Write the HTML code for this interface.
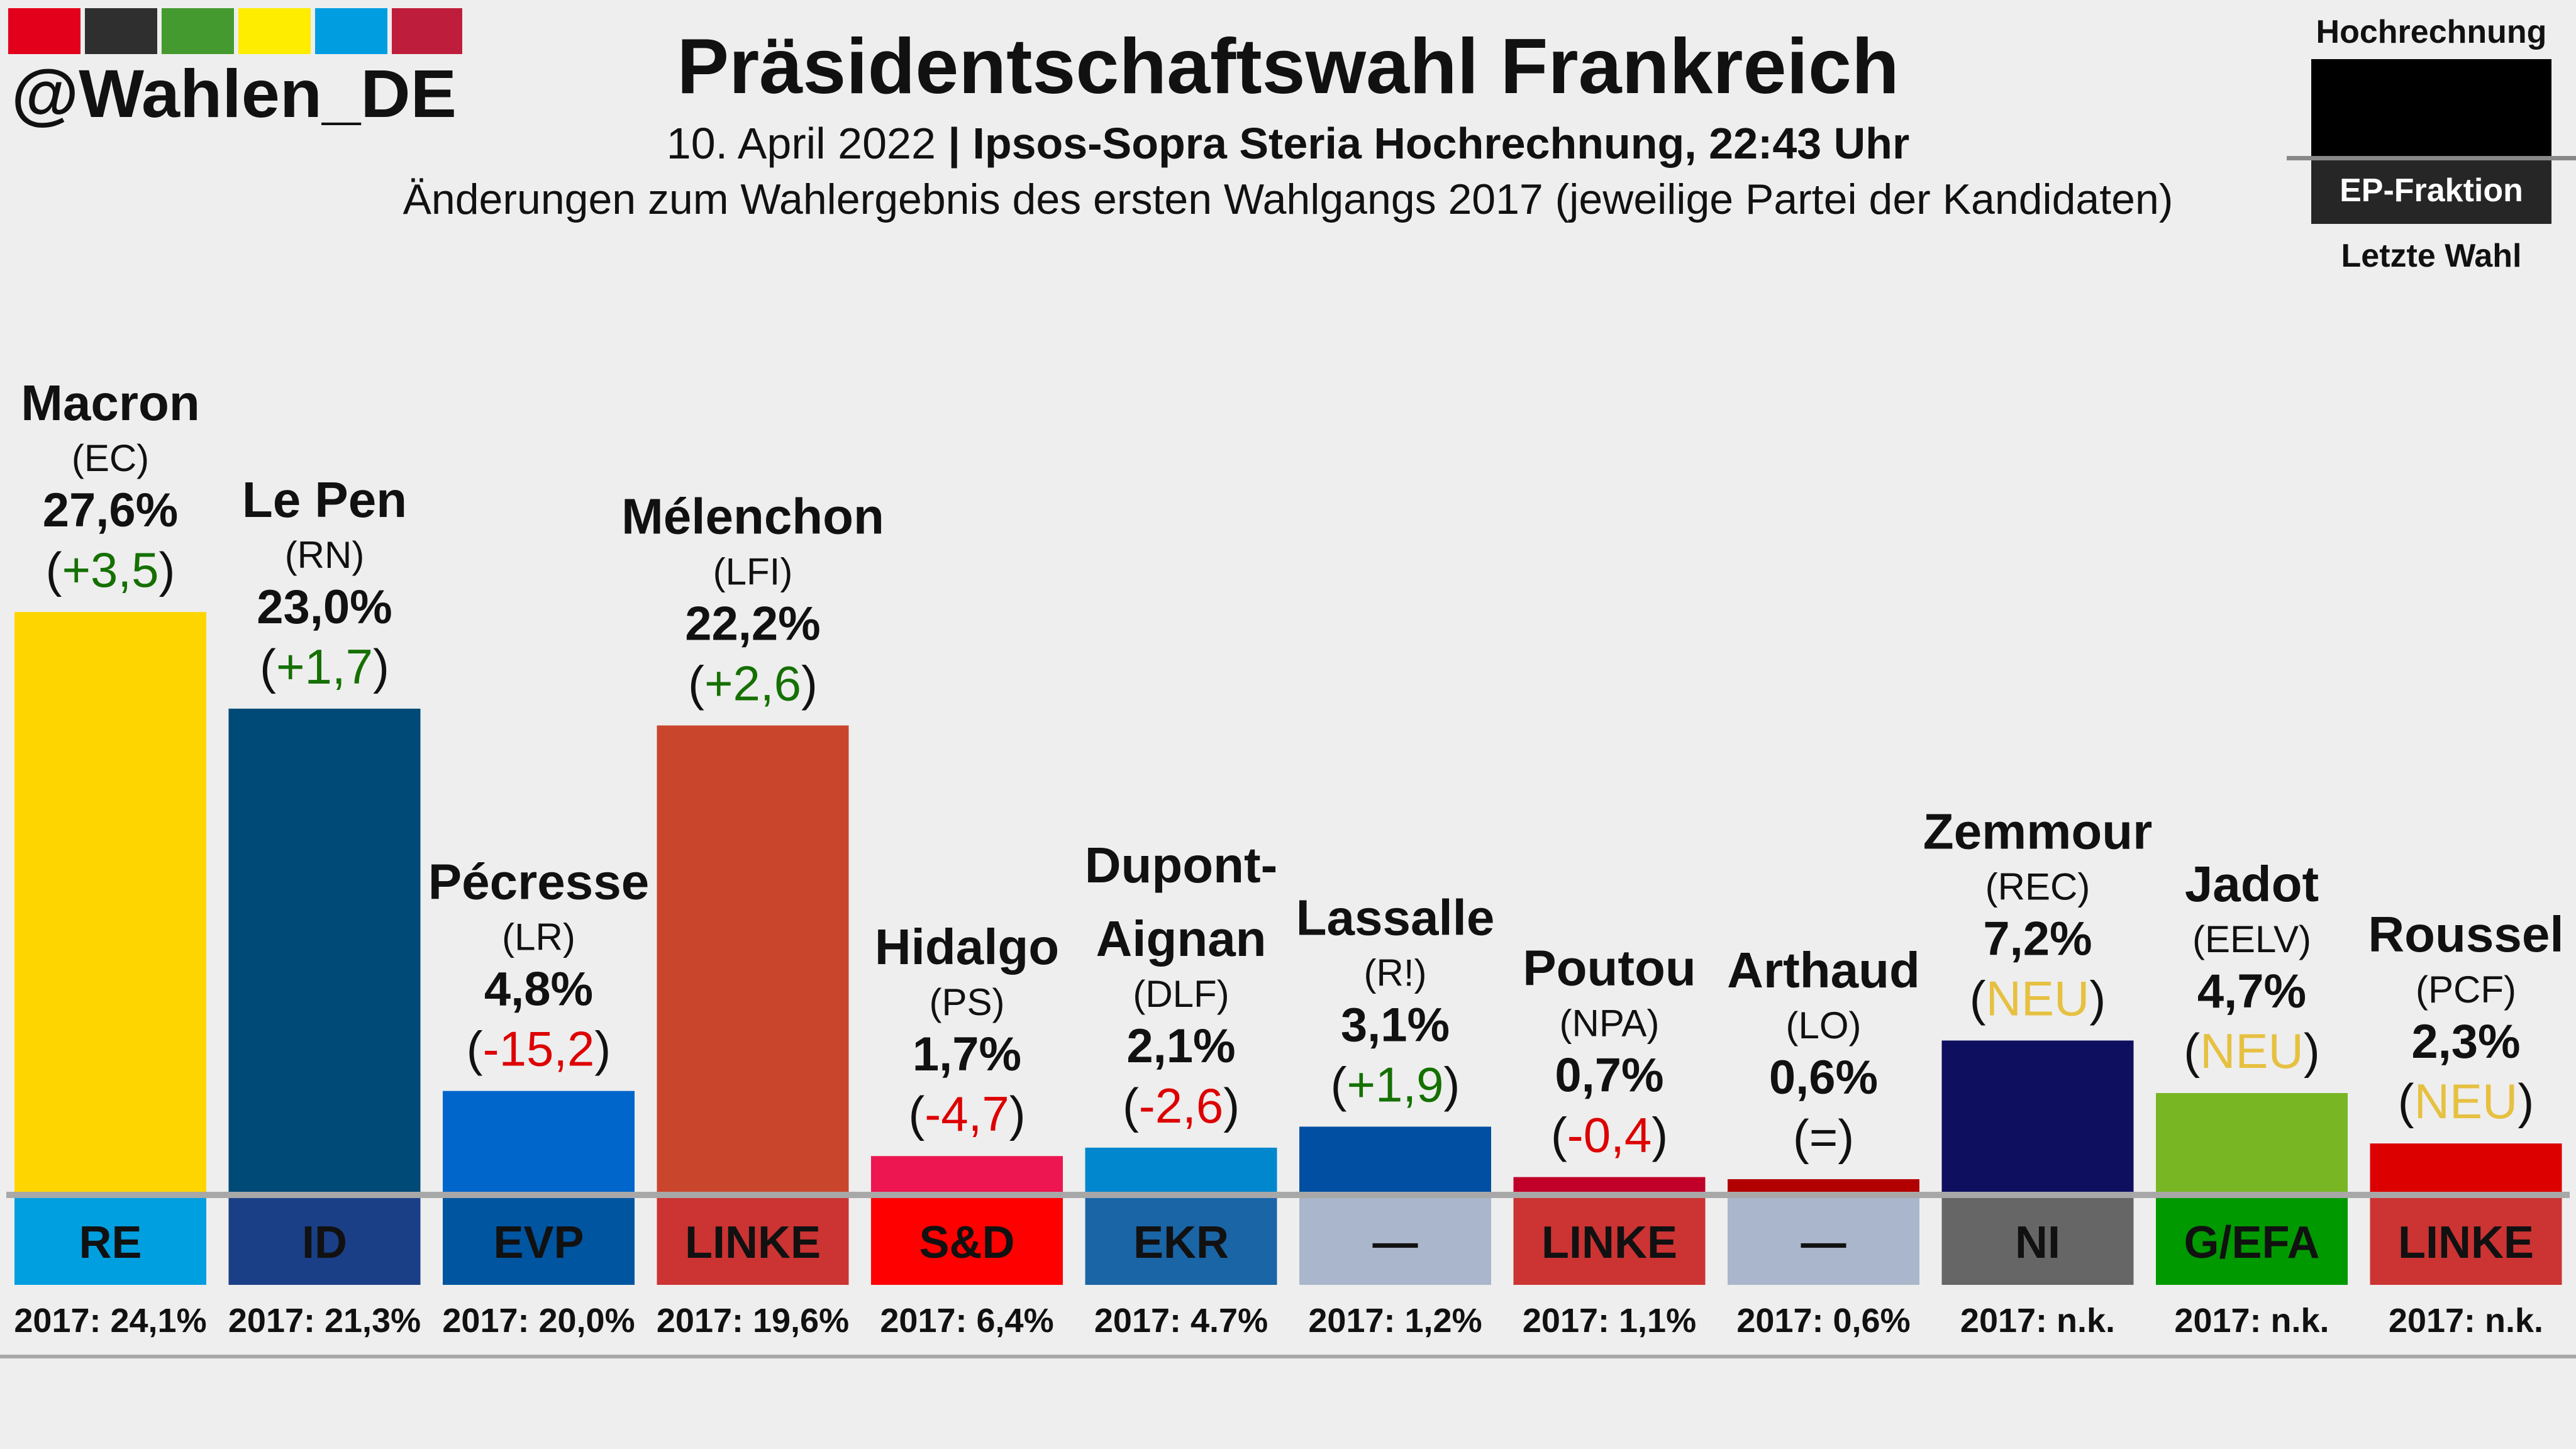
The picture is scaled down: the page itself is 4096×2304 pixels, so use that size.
<!DOCTYPE html>
<html><head><meta charset="utf-8"><style>
html,body{margin:0;padding:0;background:#eeeeee;}
svg{display:block;font-family:"Liberation Sans",sans-serif;}
</style></head><body>
<svg id="chart" width="4096" height="2304" viewBox="0 0 4096 2304" xmlns="http://www.w3.org/2000/svg">
<rect x="0" y="0" width="4096" height="2304" fill="#eeeeee"/>
<g>
<rect x="13" y="13" width="115" height="73" fill="#e2001a"/>
<rect x="135" y="13" width="115" height="73" fill="#2f2f2f"/>
<rect x="257" y="13" width="115" height="73" fill="#449a2e"/>
<rect x="379" y="13" width="115" height="73" fill="#ffed00"/>
<rect x="501" y="13" width="115" height="73" fill="#009ee0"/>
<rect x="623" y="13" width="112" height="73" fill="#be1e3c"/>
</g>
<text x="18" y="186" font-size="108" font-weight="bold" fill="#111" textLength="708" lengthAdjust="spacingAndGlyphs">@Wahlen_DE</text>
<text x="2048" y="148" font-size="124" font-weight="bold" text-anchor="middle" fill="#111">Präsidentschaftswahl Frankreich</text>
<text x="2048" y="252" font-size="70" text-anchor="middle" fill="#111">10. April 2022 <tspan font-weight="bold">| Ipsos-Sopra Steria Hochrechnung, 22:43 Uhr</tspan></text>
<text x="2048" y="340" font-size="68" text-anchor="middle" fill="#111">Änderungen zum Wahlergebnis des ersten Wahlgangs 2017 (jeweilige Partei der Kandidaten)</text>
<g>
<text x="3866" y="68" font-size="52" font-weight="bold" text-anchor="middle" fill="#111">Hochrechnung</text>
<rect x="3675" y="94" width="382" height="154" fill="#000"/>
<rect x="3636" y="248" width="460" height="7" fill="#888"/>
<rect x="3675" y="255" width="382" height="101" fill="#262626"/>
<text x="3866" y="320" font-size="52" font-weight="bold" text-anchor="middle" fill="#fff">EP-Fraktion</text>
<text x="3866" y="424" font-size="52" font-weight="bold" text-anchor="middle" fill="#111">Letzte Wahl</text>
</g>
<g id="bars"></g>
<rect x="10" y="1895" width="4076" height="10" fill="#a8a8a8"/>
<rect x="0" y="2154" width="4096" height="6" fill="#a8a8a8"/>
</svg>
<script>
const candidates = ["Macron","Le Pen","Pécresse","Mélenchon","Hidalgo","Dupont-|Aignan","Lassalle","Poutou","Arthaud","Zemmour","Jadot","Roussel"];
const parties = ["EC","RN","LR","LFI","PS","DLF","R!","NPA","LO","REC","EELV","PCF"];
const values = [27.6,23.0,4.8,22.2,1.7,2.1,3.1,0.7,0.6,7.2,4.7,2.3];
const valueLabels = ["27,6%","23,0%","4,8%","22,2%","1,7%","2,1%","3,1%","0,7%","0,6%","7,2%","4,7%","2,3%"];
const changeLabels = ["+3,5","+1,7","-15,2","+2,6","-4,7","-2,6","+1,9","-0,4","=","NEU","NEU","NEU"];
const groups = ["RE","ID","EVP","LINKE","S&D","EKR","—","LINKE","—","NI","G/EFA","LINKE"];
const prev2017 = ["2017: 24,1%","2017: 21,3%","2017: 20,0%","2017: 19,6%","2017: 6,4%","2017: 4.7%","2017: 1,2%","2017: 1,1%","2017: 0,6%","2017: n.k.","2017: n.k.","2017: n.k."];
const barColors = ["#ffd500","#004a77","#0066cc","#c9462c","#ed1651","#0087cd","#004fa3","#c1002a","#b20000","#0f0f60","#78b624","#dd0000"];
const groupColors = ["#009fe0","#1b3f87","#0055a0","#cc3333","#ff0000","#1a65a6","#a9b6cb","#cc3333","#a9b6cb","#666666","#009900","#cc3333"];

const NS = "http://www.w3.org/2000/svg";
const baseY = 1895, pxPer = 33.4, x0 = 23, pitch = 340.5, bw = 305;
const xScale = i => x0 + i*pitch;
const yScale = v => baseY - v*pxPer;
const g = document.getElementById('bars');
function mk(tag, attrs, text){
  const e = document.createElementNS(NS, tag);
  for (const k in attrs) e.setAttribute(k, attrs[k]);
  if (text !== undefined) e.textContent = text;
  g.appendChild(e); return e;
}
function changeColor(c){
  if (c === "NEU") return "#e6c040";
  if (c === "=") return "#111";
  return c[0] === "-" ? "#dd0000" : "#157000";
}
values.forEach((v,i)=>{
  const x = xScale(i), top = yScale(v), cx = x + bw/2;
  const bar = mk('rect',{x:x,y:top,width:bw,height:baseY-top,fill:barColors[i]});
  
  
  const ch = mk('text',{x:cx,y:top-40,'font-size':78,'text-anchor':'middle',fill:'#111'});
  
  
  const t1 = document.createElementNS(NS,'tspan'); t1.textContent='('; ch.appendChild(t1);
  const t2 = document.createElementNS(NS,'tspan'); t2.textContent=changeLabels[i]; t2.setAttribute('fill',changeColor(changeLabels[i])); ch.appendChild(t2);
  const t3 = document.createElementNS(NS,'tspan'); t3.textContent=')'; ch.appendChild(t3);
  const vl = mk('text',{x:cx,y:top-136,'font-size':76,'font-weight':'bold','text-anchor':'middle',fill:'#111'}, valueLabels[i]);
  
  
  const pl = mk('text',{x:cx,y:top-224,'font-size':60,'text-anchor':'middle',fill:'#111'}, '('+parties[i]+')');
  
  
  const lines = candidates[i].split('|');
  lines.forEach((ln,j)=>{
    const nl = mk('text',{x:cx,y:top-305-(lines.length-1-j)*117,'font-size':80,'font-weight':'bold','text-anchor':'middle',fill:'#111'}, ln);
    
    
  });
  const gb = mk('rect',{x:x,y:1905,width:bw,height:138,fill:groupColors[i]});
  
  
  const gl = mk('text',{x:cx,y:2000,'font-size':72,'font-weight':'bold','text-anchor':'middle',fill:'#111'}, groups[i]);
  
  
  const pv = mk('text',{x:cx,y:2118,'font-size':54,'font-weight':'bold','text-anchor':'middle',fill:'#111'}, prev2017[i]);
  
  
});
</script>
</body></html>
